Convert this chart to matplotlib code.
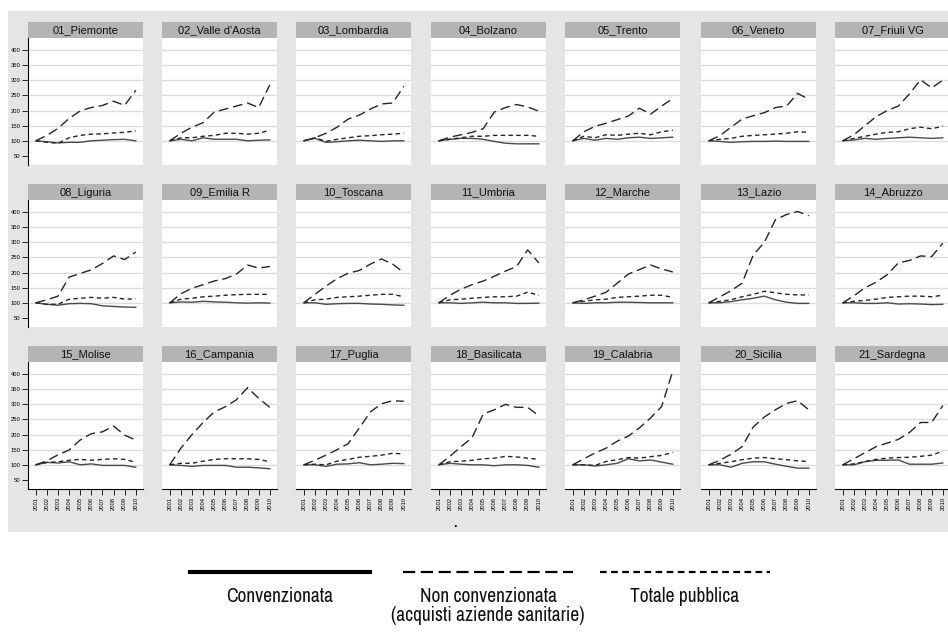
import numpy as np
import matplotlib
matplotlib.use("Agg")
import matplotlib.pyplot as plt
from matplotlib.patches import Rectangle
from matplotlib.lines import Line2D
from matplotlib import font_manager

YEARS = list(range(2001, 2011))

REGIONS = ["01_Piemonte", "02_Valle d'Aosta", "03_Lombardia", "04_Bolzano", "05_Trento",
           "06_Veneto", "07_Friuli VG", "08_Liguria", "09_Emilia R", "10_Toscana",
           "11_Umbria", "12_Marche", "13_Lazio", "14_Abruzzo", "15_Molise",
           "16_Campania", "17_Puglia", "18_Basilicata", "19_Calabria", "20_Sicilia",
           "21_Sardegna"]

# Convenzionata (solid)
CONV = [
    [100, 97, 93, 95, 95, 100, 102, 104, 105, 100],
    [100, 105, 100, 110, 105, 105, 105, 100, 102, 103],
    [100, 108, 95, 97, 100, 102, 100, 98, 100, 100],
    [100, 105, 108, 108, 105, 98, 92, 90, 90, 90],
    [100, 108, 102, 108, 105, 110, 112, 108, 110, 112],
    [100, 98, 95, 97, 98, 98, 99, 98, 98, 98],
    [100, 103, 108, 105, 108, 110, 112, 110, 108, 110],
    [100, 95, 92, 97, 98, 97, 90, 88, 86, 85],
    [100, 103, 102, 105, 103, 102, 100, 99, 100, 99],
    [100, 100, 95, 97, 98, 98, 96, 95, 93, 92],
    [100, 100, 98, 100, 102, 100, 100, 98, 98, 99],
    [100, 98, 100, 100, 102, 102, 101, 100, 100, 100],
    [100, 100, 104, 110, 115, 122, 110, 102, 98, 98],
    [100, 100, 98, 98, 100, 96, 97, 96, 94, 95],
    [100, 108, 106, 110, 100, 103, 98, 98, 98, 92],
    [100, 98, 95, 98, 98, 98, 92, 92, 90, 87],
    [100, 100, 95, 102, 103, 107, 100, 102, 105, 104],
    [100, 105, 102, 100, 100, 97, 100, 100, 98, 92],
    [100, 100, 96, 100, 105, 120, 113, 116, 109, 102],
    [100, 100, 92, 105, 110, 110, 102, 95, 89, 89],
    [100, 100, 110, 115, 115, 116, 102, 102, 102, 106],
]

# Non convenzionata (long dash)
NON_CONV = [
    [100, 118, 141, 174, 199, 210, 217, 231, 217, 267],
    [100, 125, 145, 160, 195, 205, 215, 225, 210, 285],
    [100, 110, 125, 145, 172, 185, 205, 222, 225, 280],
    [100, 112, 120, 128, 140, 195, 210, 220, 212, 198],
    [100, 130, 148, 158, 170, 182, 208, 188, 215, 240],
    [100, 117, 145, 172, 183, 193, 210, 215, 257, 237],
    [100, 120, 150, 180, 200, 215, 255, 302, 275, 300],
    [100, 110, 122, 185, 197, 209, 230, 255, 243, 268],
    [100, 130, 148, 160, 172, 180, 195, 225, 215, 220],
    [100, 128, 155, 180, 198, 207, 228, 245, 228, 200],
    [100, 125, 145, 160, 172, 188, 205, 220, 275, 232],
    [100, 110, 122, 135, 165, 195, 210, 225, 212, 202],
    [100, 120, 140, 165, 258, 300, 375, 392, 402, 388],
    [100, 123, 150, 168, 193, 232, 240, 255, 253, 297],
    [100, 113, 133, 149, 182, 203, 209, 228, 198, 182],
    [100, 155, 200, 240, 275, 292, 315, 355, 320, 290],
    [100, 115, 132, 150, 170, 222, 275, 302, 312, 310],
    [100, 128, 160, 190, 268, 282, 300, 290, 290, 262],
    [100, 120, 139, 155, 178, 195, 222, 255, 293, 410],
    [100, 115, 135, 160, 225, 258, 282, 303, 312, 282],
    [100, 120, 140, 160, 172, 184, 207, 240, 240, 296],
]

# Totale pubblica (short dash)
TOTALE = [
    [100, 95, 92, 110, 118, 122, 123, 126, 128, 133],
    [100, 110, 110, 115, 118, 125, 125, 122, 125, 135],
    [100, 110, 98, 105, 110, 115, 117, 120, 122, 125],
    [100, 105, 110, 115, 115, 118, 118, 118, 118, 115],
    [100, 115, 110, 120, 118, 122, 125, 120, 130, 135],
    [100, 105, 108, 115, 118, 120, 122, 125, 130, 128],
    [100, 108, 115, 122, 128, 130, 140, 145, 140, 148],
    [100, 95, 95, 112, 115, 118, 115, 118, 112, 113],
    [100, 112, 115, 120, 122, 125, 127, 128, 128, 128],
    [100, 110, 112, 118, 120, 122, 125, 128, 128, 120],
    [100, 110, 112, 115, 118, 120, 120, 122, 135, 125],
    [100, 105, 110, 112, 118, 120, 122, 125, 125, 118],
    [100, 105, 110, 120, 128, 138, 133, 128, 126, 126],
    [100, 105, 108, 112, 118, 120, 122, 122, 120, 125],
    [100, 108, 110, 115, 118, 115, 118, 120, 118, 108],
    [100, 105, 105, 112, 118, 120, 120, 120, 118, 110],
    [100, 102, 100, 112, 118, 125, 128, 132, 138, 136],
    [100, 110, 112, 115, 120, 122, 128, 126, 122, 118],
    [100, 100, 98, 111, 117, 124, 122, 127, 131, 141],
    [100, 105, 110, 117, 122, 124, 120, 117, 113, 111],
    [100, 103, 111, 118, 122, 124, 125, 128, 132, 145],
]

Y_TICKS = [50, 100, 150, 200, 250, 300, 350, 400]
GRID_LINES = [100, 150, 200, 250, 300, 350, 400]
LEGEND_LABELS = ["Convenzionata", "Non convenzionata\n(acquisti aziende sanitarie)", "Totale pubblica"]

W, H = 948, 633
plt.rcParams["font.family"] = ["Liberation Sans", "DejaVu Sans"]

# pick a condensed face for the legend if one is installed
legend_font = {"family": "Liberation Sans"}
for f in font_manager.fontManager.ttflist:
    if "Narrow" in f.name or "Condensed" in f.name:
        legend_font = {"family": f.name}
        break
else:
    for f in font_manager.fontManager.ttflist:
        if f.stretch in ("condensed", "semi-condensed") and f.name == "DejaVu Sans":
            legend_font = {"family": "DejaVu Sans", "fontstretch": "condensed"}
            break


def fx(x):
    return x / W


def fy(y):
    return 1 - y / H


fig = plt.figure(figsize=(W / 100, H / 100), dpi=100)
fig.patch.set_facecolor("white")

# grey graph region
fig.add_artist(Rectangle((fx(8), fy(532)), fx(948 - 8), (532 - 11) / H,
                         transform=fig.transFigure, facecolor="#e5e5e5",
                         edgecolor="none", zorder=0))

col_left = [28, 162, 296, 431, 565, 701, 835]
row_top = [22, 184, 346]
panel_w, strip_h, plot_h = 115, 16, 127

styles = {
    "conv": dict(color="#4a4a4a", lw=1.0, ls="-"),
    "non": dict(color="#262626", lw=1.0, ls=(0, (7, 3.5))),
    "tot": dict(color="#262626", lw=1.0, ls=(0, (3.2, 2.4))),
}

for i, name in enumerate(REGIONS):
    r, c = divmod(i, 7)
    x0 = col_left[c]
    top = row_top[r]
    # title strip
    fig.add_artist(Rectangle((fx(x0), fy(top + strip_h)), panel_w / W, strip_h / H,
                             transform=fig.transFigure, facecolor="#b4b4b4",
                             edgecolor="none", zorder=1))
    fig.text(fx(x0 + panel_w / 2), fy(top + strip_h / 2 + 0.5), name,
             ha="center", va="center", fontsize=8, color="#111111")

    ax = fig.add_axes([fx(x0), fy(top + strip_h + plot_h), panel_w / W, plot_h / H])
    ax.set_facecolor("white")
    for y in GRID_LINES:
        ax.axhline(y, color="#dcdcdc", lw=1.0, zorder=0)
    ax.plot(YEARS, CONV[i], **styles["conv"])
    ax.plot(YEARS, NON_CONV[i], **styles["non"])
    ax.plot(YEARS, TOTALE[i], **styles["tot"])
    ax.set_xlim(2000.3, 2010.65)
    ax.set_ylim(20, 440)
    for sp in ax.spines.values():
        sp.set_visible(False)

    if c == 0:
        ax.spines["left"].set_visible(True)
        ax.spines["left"].set_linewidth(0.8)
        ax.set_yticks(Y_TICKS)
        ax.tick_params(axis="y", length=4, width=0.6, labelsize=4.2, pad=1.5)
    else:
        ax.set_yticks([])

    if r == 2:
        ax.spines["bottom"].set_visible(True)
        ax.spines["bottom"].set_linewidth(0.8)
        ax.set_xticks(YEARS)
        ax.set_xticklabels([str(y) for y in YEARS], rotation=90)
        ax.tick_params(axis="x", length=4, width=0.6, labelsize=4.2, pad=1.5)
    else:
        ax.set_xticks([])

# stray dot below the panels
fig.text(fx(455), fy(530), ".", ha="center", va="bottom", fontsize=9, fontweight="bold")

# legend
leg_x = [(190, 370), (403, 573), (600, 770)]
leg_keys = ["conv", "non", "tot"]
for (xa, xb), key, label in zip(leg_x, leg_keys, LEGEND_LABELS):
    st = dict(styles[key])
    st["color"] = "black"
    st["lw"] = 3.0 if key == "conv" else 1.6
    if key == "non":
        st["ls"] = (0, (5.5, 2.5))
    if key == "tot":
        st["ls"] = (0, (3, 2))
    fig.add_artist(Line2D([fx(xa), fx(xb)], [fy(572), fy(572)],
                          transform=fig.transFigure, **st))
    fig.text(fx((xa + xb) / 2), fy(587), label, ha="center", va="top",
             fontsize=14, color="#111111", linespacing=1.0, **legend_font)

fig.savefig("out.png", dpi=100)
